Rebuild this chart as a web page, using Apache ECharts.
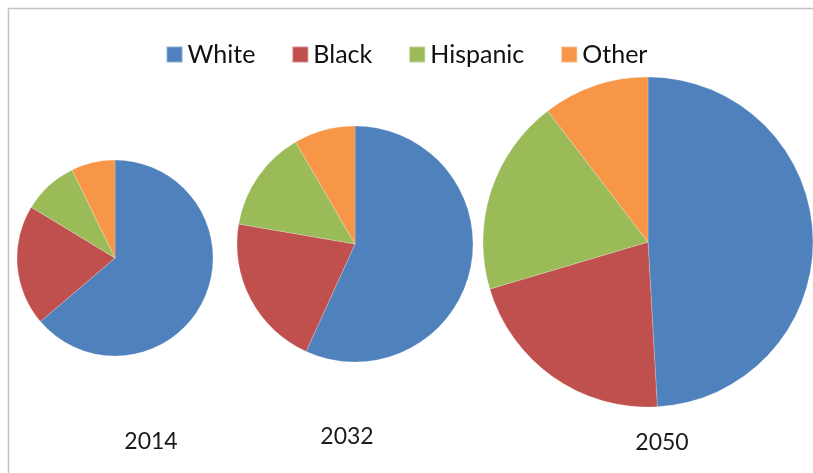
<!DOCTYPE html>
<html>
<head>
<meta charset="utf-8">
<script src="https://cdn.jsdelivr.net/npm/echarts@6/dist/echarts.min.js"></script>
<style>
  html, body { margin: 0; padding: 0; background: #fff; }
  #chart { width: 813px; height: 473px; }
</style>
</head>
<body>
<div id="chart"></div>
<script>
var groups = ["White", "Black", "Hispanic", "Other"];
var years = ["2014", "2032", "2050"];
var share2014 = [63.7, 19.9, 9.1, 7.2];
var share2032 = [56.8, 20.9, 13.9, 8.4];
var share2050 = [49.1, 21.3, 19.2, 10.4];
var colors = ["#4f81bd", "#c0504d", "#9bbb59", "#f79646"];

var shares = [share2014, share2032, share2050];
var centers = [[115, 258], [355, 244], [648, 242]];
var radii = [98, 118, 165];
var labelPos = [[151, 442], [347, 437], [662, 443]];

var chartDom = document.getElementById("chart");
var myChart = echarts.init(chartDom);

var series = years.map(function (y, i) {
  return {
    name: y,
    type: "pie",
    center: centers[i],
    radius: radii[i],
    startAngle: 90,
    clockwise: true,
    animation: false,
    label: { show: false },
    labelLine: { show: false },
    emphasis: { disabled: true },
    itemStyle: { borderColor: "rgba(255,255,255,0.35)", borderWidth: 0.6 },
    data: groups.map(function (g, k) {
      return { name: g, value: shares[i][k] };
    })
  };
});

var option = {
  color: colors,
  animation: false,
  legend: {
    top: 37,
    left: "center",
    itemWidth: 16,
    itemHeight: 16,
    itemGap: 36,
    icon: "rect",
    textStyle: { fontFamily: "Lato", fontSize: 25, color: "#111" },
    data: groups
  },
  graphic: [
    {
      type: "rect",
      shape: { x: 8.5, y: 8.5, width: 900, height: 600 },
      style: { fill: "none", stroke: "#c4c4c4", lineWidth: 1.5 },
      silent: true
    }
  ].concat(years.map(function (y, i) {
    return {
      type: "text",
      x: labelPos[i][0],
      y: labelPos[i][1],
      style: {
        text: y,
        align: "center",
        verticalAlign: "middle",
        font: "23px Lato",
        fill: "#1a1a1a"
      }
    };
  })),
  series: series
};

myChart.setOption(option);
window.addEventListener("resize", myChart.resize);
</script>
</body>
</html>
